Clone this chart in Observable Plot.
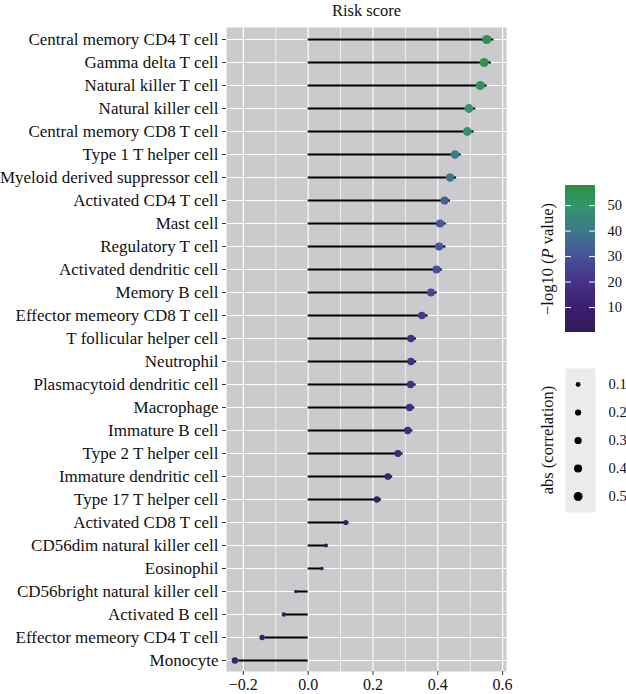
<!DOCTYPE html>
<html>
<head>
<meta charset="utf-8">
<script src="https://cdn.jsdelivr.net/npm/d3@7"></script>
<script src="https://cdn.jsdelivr.net/npm/@observablehq/plot@0.6"></script>
<style>
  html, body { margin: 0; padding: 0; background: #fff; }
  #wrap { position: relative; width: 626px; height: 694px; font-family: "Liberation Serif", serif; }
  #wrap > svg, #wrap > div.leg { position: absolute; }
  .rot { position: absolute; transform: translate(-50%, -50%) rotate(-90deg); white-space: nowrap; font-size: 16.5px; font-family: "Liberation Serif", serif; color: #111; }
</style>
</head>
<body>
<div id="wrap"></div>
<script>
// ---- data (top to bottom) ----
const cells = [
  "Central memory CD4 T cell", "Gamma delta T cell", "Natural killer T cell", "Natural killer cell",
  "Central memory CD8 T cell", "Type 1 T helper cell", "Myeloid derived suppressor cell", "Activated CD4 T cell",
  "Mast cell", "Regulatory T cell", "Activated dendritic cell", "Memory B cell",
  "Effector memeory CD8 T cell", "T follicular helper cell", "Neutrophil", "Plasmacytoid dendritic cell",
  "Macrophage", "Immature B cell", "Type 2 T helper cell", "Immature dendritic cell",
  "Type 17 T helper cell", "Activated CD8 T cell", "CD56dim natural killer cell", "Eosinophil",
  "CD56bright natural killer cell", "Activated B cell", "Effector memeory CD4 T cell", "Monocyte"
];
const correlation = [
  0.551, 0.543, 0.531, 0.496, 0.491, 0.453, 0.438, 0.421,
  0.407, 0.404, 0.396, 0.379, 0.351, 0.317, 0.317, 0.316,
  0.313, 0.307, 0.277, 0.246, 0.212, 0.116, 0.055, 0.042,
  -0.038, -0.075, -0.142, -0.226
];
const segmentEnd = [
  0.573, 0.565, 0.552, 0.517, 0.512, 0.472, 0.458, 0.439,
  0.426, 0.425, 0.414, 0.398, 0.370, 0.334, 0.335, 0.333,
  0.329, 0.323, 0.293, 0.261, 0.226, 0.126, 0.061, 0.047,
  -0.036, -0.068, -0.132, -0.214
];
const log10P = [
  56, 55, 54, 49, 48, 40, 38, 33,
  31, 31, 29, 26, 22, 18, 18, 18,
  17, 16, 14, 12, 9, 5, 3, 2,
  1, 3, 8, 12
];
const xTicks = [-0.2, 0, 0.2, 0.4, 0.6];
const xMinor = [-0.1, 0.1, 0.3, 0.5];
const colorTicks = [10, 20, 30, 40, 50];
const sizeTicks = [0.1, 0.2, 0.3, 0.4, 0.5];

const rows = cells.map((c, i) => ({cell: c, cor: correlation[i], end: segmentEnd[i], p: log10P[i], size: Math.abs(correlation[i])}));

const colorOpts = {
  type: "linear",
  domain: [0.2, 10, 20, 30, 40, 50, 57.9],
  range: ["#311a5a", "#3b1f6d", "#47338a", "#46539a", "#3d7a88", "#32966a", "#2e8f45"]
};
const rOpts = {type: "sqrt", domain: [0.038, 0.551], range: [1.8, 4.6]};
const font = "Liberation Serif";

const wrap = document.getElementById("wrap");

// ---- main chart ----
const main = Plot.plot({
  width: 626, height: 694,
  marginLeft: 226, marginRight: 120, marginTop: 27, marginBottom: 23,
  style: {fontFamily: font, fontSize: "16px", color: "#000", background: "transparent", overflow: "visible"},
  x: {domain: [-0.252, 0.612], ticks: xTicks, tickFormat: d3.format(".1f"), label: null},
  y: {domain: cells, type: "point", padding: 0.15, label: null},
  color: colorOpts,
  r: rOpts,
  marks: [
    Plot.frame({fill: "#cbcbcd", stroke: null}),
    Plot.ruleX(xMinor, {stroke: "#fff", strokeWidth: 0.7}),
    Plot.ruleX(xTicks, {stroke: "#fff", strokeWidth: 1.2}),
    Plot.ruleY(cells, {stroke: "#fff", strokeWidth: 1.2}),
    Plot.ruleY(rows, {y: "cell", x1: 0, x2: "end", stroke: "#000", strokeWidth: 2}),
    Plot.dot(rows, {x: "cor", y: "cell", r: "size", fill: "p"}),
    Plot.axisX({ticks: xTicks, tickSize: 4, tickPadding: 3, fontSize: 16, stroke: "#333", fill: "#111", tickFormat: d3.format(".1f")}),
    Plot.axisY({tickSize: 4, tickPadding: 4, fontSize: 17, stroke: "#333", fill: "#111"}),
    Plot.text(["Risk score"], {frameAnchor: "top", lineAnchor: "bottom", dy: -12, fontSize: 16.5, fill: "#111"})
  ]
});
main.style.left = "0px"; main.style.top = "0px";
wrap.appendChild(main);

// ---- colour bar legend ----
const grad = d3.range(0.2, 57.9, 0.25);
const cbar = Plot.plot({
  width: 90, height: 160,
  marginLeft: 25, marginRight: 35, marginTop: 5, marginBottom: 8,
  style: {fontFamily: font, fontSize: "14px", color: "#000", background: "transparent"},
  x: {domain: [0, 1], axis: null},
  y: {domain: [0.2, 57.9], label: null},
  color: colorOpts,
  marks: [
    Plot.rect(grad, {x1: 0, x2: 1, y1: d => d, y2: d => Math.min(d + 0.3, 57.9), fill: d => d, shapeRendering: "crispEdges"}),
    Plot.ruleY(colorTicks, {x1: 0, x2: 0.2, stroke: "#fff", strokeWidth: 1}),
    Plot.ruleY(colorTicks, {x1: 0.8, x2: 1, stroke: "#fff", strokeWidth: 1}),
    Plot.axisY({anchor: "right", ticks: colorTicks, tickSize: 0, tickPadding: 12, fontSize: 14.5, fill: "#111", label: null})
  ]
});
cbar.style.left = "540px"; cbar.style.top = "180px";
wrap.appendChild(cbar);

// ---- size legend ----
const sizeLabels = sizeTicks.map(d => d.toFixed(1));
const sleg = Plot.plot({
  width: 90, height: 162,
  marginLeft: 25, marginRight: 35, marginTop: 8, marginBottom: 10,
  style: {fontFamily: font, fontSize: "14px", color: "#000", background: "transparent"},
  x: {domain: [0, 1], axis: null},
  y: {domain: sizeLabels, type: "point", padding: 0.5, label: null},
  r: rOpts,
  marks: [
    Plot.frame({fill: "#ebebeb", stroke: null}),
    Plot.dot(sizeTicks, {x: 0.42, y: d => d.toFixed(1), r: d => d, fill: "#000"}),
    Plot.axisY({anchor: "right", tickSize: 0, tickPadding: 13, fontSize: 14.5, fill: "#111", label: null})
  ]
});
sleg.style.left = "540px"; sleg.style.top = "360px";
wrap.appendChild(sleg);

// ---- legend titles ----
const t1 = document.createElement("div");
t1.className = "rot";
t1.style.left = "548px"; t1.style.top = "259px";
t1.innerHTML = "\u2212log10 (<i>P</i> value)";
wrap.appendChild(t1);
const t2 = document.createElement("div");
t2.className = "rot";
t2.style.left = "548px"; t2.style.top = "440px";
t2.textContent = "abs (correlation)";
wrap.appendChild(t2);
</script>
</body>
</html>
